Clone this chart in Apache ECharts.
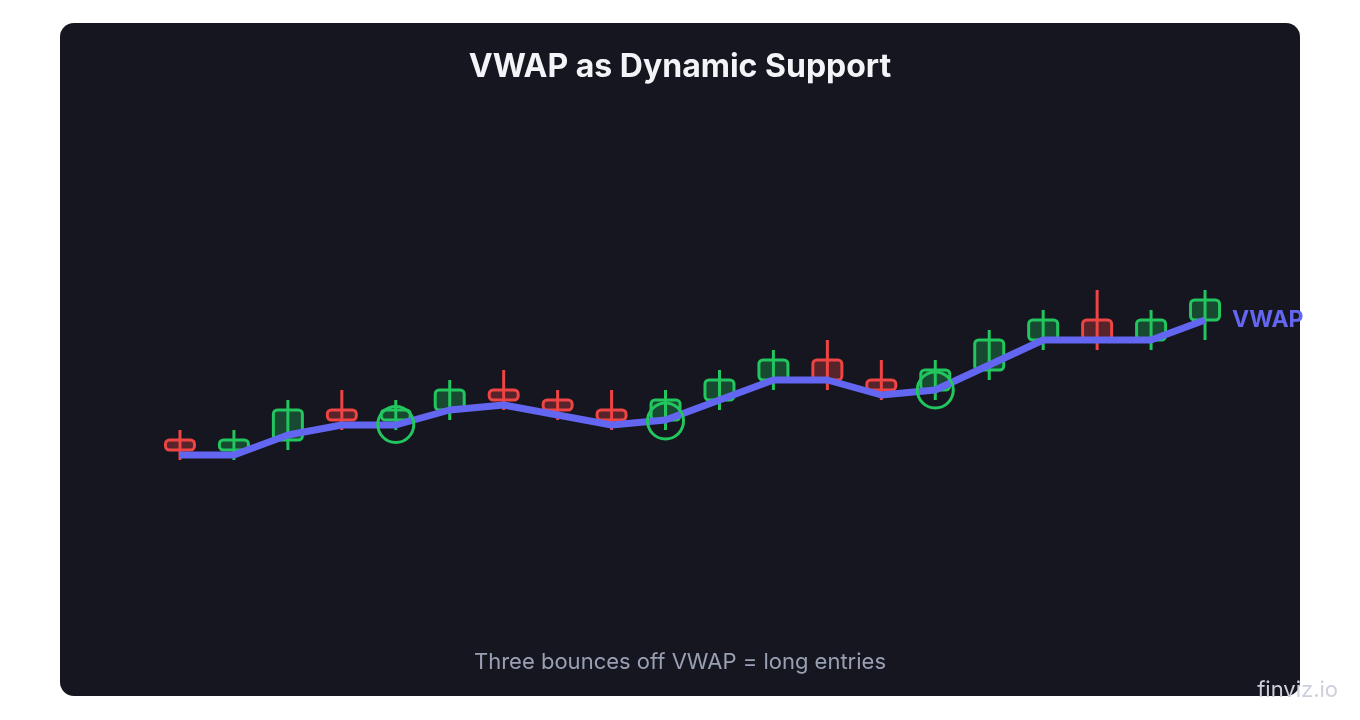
<!DOCTYPE html>
<html>
<head>
<meta charset="utf-8">
<script src="https://cdn.jsdelivr.net/npm/echarts@6/dist/echarts.min.js"></script>
<style>
  html, body { margin: 0; padding: 0; background: #ffffff; }
  #main { width: 1360px; height: 720px; }
</style>
</head>
<body>
<div id="main"></div>
<script>
// bars: [open, close, low, high]
var bars = [
    [16, 15, 14, 17],
    [15, 16, 14, 17],
    [16, 19, 15, 20],
    [19, 18, 17, 21],
    [18, 19, 17, 20],
    [19, 21, 18, 22],
    [21, 20, 19, 23],
    [20, 19, 18, 21],
    [19, 18, 17, 21],
    [18, 20, 17, 21],
    [20, 22, 19, 23],
    [22, 24, 21, 25],
    [24, 22, 21, 26],
    [22, 21, 20, 24],
    [21, 23, 20, 24],
    [23, 26, 22, 27],
    [26, 28, 25, 29],
    [28, 26, 25, 31],
    [26, 28, 25, 29],
    [28, 30, 26, 31]
];
var vwap = [14.5, 14.5, 16.5, 17.5, 17.5, 19, 19.5, 18.5, 17.5, 18, 20, 22, 22, 20.5, 21, 23.5, 26, 26, 26, 28];
var bounces = [[4, 17.55], [9, 17.9], [14, 21]];
var categories = [];
for (var i = 0; i < bars.length; i++) categories.push('' + (i + 1));

var candleData = bars.map(function(b, i){ return [i, b[0], b[1], b[2], b[3]]; });

function renderCandle(params, api){
    var idx = api.value(0);
    var open = api.coord([idx, api.value(1)]);
    var close = api.coord([idx, api.value(2)]);
    var low = api.coord([idx, api.value(3)]);
    var high = api.coord([idx, api.value(4)]);
    var up = api.value(2) >= api.value(1);
    var stroke = up ? '#22c55e' : '#ef4444';
    var fill = up ? 'rgba(34,197,94,0.3)' : 'rgba(239,68,68,0.3)';
    var w = 29;
    var top = Math.min(open[1], close[1]);
    var h = Math.abs(open[1] - close[1]);
    return {
        type: 'group',
        children: [
            {
                type: 'rect',
                shape: {x: open[0] - w / 2, y: top, width: w, height: h, r: 4},
                style: {fill: fill, stroke: stroke, lineWidth: 3}
            },
            {
                type: 'line',
                shape: {x1: high[0], y1: high[1], x2: low[0], y2: low[1]},
                style: {stroke: stroke, lineWidth: 3}
            }
        ]
    };
}

var myChart = echarts.init(document.getElementById('main'));
var option = {
    backgroundColor: 'transparent',
    animation: false,
    graphic: [
        {
            type: 'rect',
            z: -10,
            shape: {x: 60, y: 23, width: 1240, height: 673, r: 14},
            style: {fill: '#15161f'}
        },
        {
            type: 'text',
            left: 'center',
            top: 51,
            style: {text: 'VWAP as Dynamic Support', fill: '#f3f4f8', font: 'bold 32px Inter'}
        },
        {
            type: 'text',
            left: 'center',
            top: 651,
            style: {text: 'Three bounces off VWAP = long entries', fill: '#9aa0b4', font: '22px Inter'}
        },
        {
            type: 'text',
            right: 22,
            top: 679,
            style: {text: 'finviz.io', fill: '#cdd0da', font: '22px Inter'}
        }
    ],
    grid: {left: 153, right: 128, top: 100, bottom: 120},
    xAxis: {
        type: 'category',
        data: categories,
        show: false
    },
    yAxis: {
        type: 'value',
        min: 0,
        max: 50,
        show: false
    },
    series: [
        {
            type: 'custom',
            data: candleData,
            renderItem: renderCandle,
            encode: {x: 0, y: [1, 2, 3, 4]},
            z: 2
        },
        {
            type: 'line',
            data: vwap,
            symbol: 'none',
            lineStyle: {color: '#6366f1', width: 7},
            endLabel: {
                show: true,
                formatter: 'VWAP',
                color: '#6366f1',
                fontFamily: 'Inter',
                fontWeight: 'bold',
                fontSize: 23,
                distance: 27
            },
            z: 3
        },
        {
            type: 'scatter',
            data: bounces,
            symbol: 'circle',
            symbolSize: 36,
            itemStyle: {
                color: 'rgba(0,0,0,0)',
                borderColor: '#22c55e',
                borderWidth: 3,
                opacity: 1
            },
            z: 4
        }
    ]
};
myChart.setOption(option);
</script>
</body>
</html>
